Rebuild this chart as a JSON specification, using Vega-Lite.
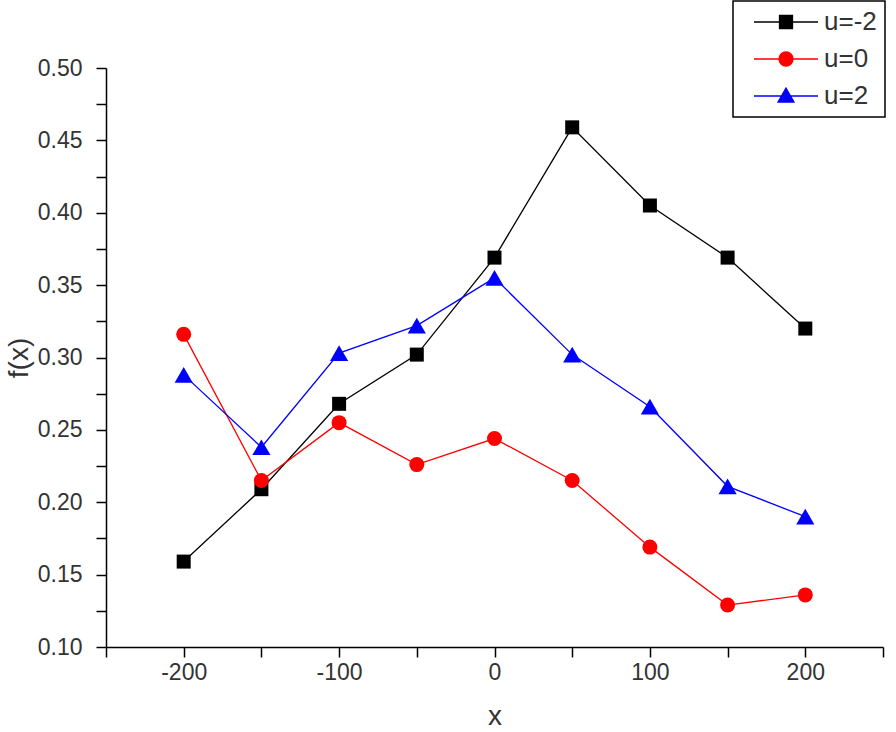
{
  "$schema": "https://vega.github.io/schema/vega-lite/v6.json",
  "autosize": "none",
  "width": 777,
  "height": 579,
  "padding": {"left": 106, "top": 68, "right": 13, "bottom": 85},
  "background": "white",
  "config": {
    "view": {"stroke": null},
    "font": "Liberation Sans",
    "axis": {"grid": false}
  },
  "data": {
    "values": [
      {"x": -200, "f": 0.159, "s": "u=-2"},
      {"x": -150, "f": 0.209, "s": "u=-2"},
      {"x": -100, "f": 0.268, "s": "u=-2"},
      {"x": -50, "f": 0.302, "s": "u=-2"},
      {"x": 0, "f": 0.369, "s": "u=-2"},
      {"x": 50, "f": 0.459, "s": "u=-2"},
      {"x": 100, "f": 0.405, "s": "u=-2"},
      {"x": 150, "f": 0.369, "s": "u=-2"},
      {"x": 200, "f": 0.320, "s": "u=-2"},
      {"x": -200, "f": 0.316, "s": "u=0"},
      {"x": -150, "f": 0.215, "s": "u=0"},
      {"x": -100, "f": 0.255, "s": "u=0"},
      {"x": -50, "f": 0.226, "s": "u=0"},
      {"x": 0, "f": 0.244, "s": "u=0"},
      {"x": 50, "f": 0.215, "s": "u=0"},
      {"x": 100, "f": 0.169, "s": "u=0"},
      {"x": 150, "f": 0.129, "s": "u=0"},
      {"x": 200, "f": 0.136, "s": "u=0"},
      {"x": -200, "f": 0.288, "s": "u=2"},
      {"x": -150, "f": 0.238, "s": "u=2"},
      {"x": -100, "f": 0.303, "s": "u=2"},
      {"x": -50, "f": 0.322, "s": "u=2"},
      {"x": 0, "f": 0.355, "s": "u=2"},
      {"x": 50, "f": 0.302, "s": "u=2"},
      {"x": 100, "f": 0.266, "s": "u=2"},
      {"x": 150, "f": 0.211, "s": "u=2"},
      {"x": 200, "f": 0.190, "s": "u=2"}
    ]
  },
  "encoding": {
    "x": {
      "field": "x", "type": "quantitative",
      "scale": {"domain": [-250, 250], "nice": false, "zero": false},
      "axis": {
        "title": "x", "titleFontSize": 28, "titleFontWeight": "normal", "titleColor": "#333", "titlePadding": 18,
        "values": [-250, -200, -150, -100, -50, 0, 50, 100, 150, 200, 250],
        "labelExpr": "datum.value % 100 === 0 && abs(datum.value) < 250 ? '' + datum.value : ''",
        "labelFontSize": 23, "labelColor": "#333", "labelPadding": 4,
        "domainColor": "black", "domainWidth": 1.5,
        "tickColor": "black", "tickWidth": 1.5, "tickSize": 10,
        "labelFlush": false, "labelOverlap": false,
        "encode": {"ticks": {"update": {"y2": {"signal": "datum.value % 100 === 0 ? 10 : 6"}}}}
      }
    },
    "y": {
      "field": "f", "type": "quantitative",
      "scale": {"domain": [0.1, 0.5], "nice": false, "zero": false},
      "axis": {
        "title": "f(x)", "titleFontSize": 28, "titleFontWeight": "normal", "titleColor": "#333", "titlePadding": 4,
        "values": [0.1, 0.125, 0.15, 0.175, 0.2, 0.225, 0.25, 0.275, 0.3, 0.325, 0.35, 0.375, 0.4, 0.425, 0.45, 0.475, 0.5],
        "labelExpr": "round(datum.value * 1000) % 50 === 0 ? format(datum.value, '.2f') : ''",
        "labelFontSize": 23, "labelColor": "#333", "labelPadding": 14,
        "domainColor": "black", "domainWidth": 1.5,
        "tickColor": "black", "tickWidth": 1.5, "tickSize": 10,
        "labelFlush": false, "labelOverlap": false,
        "encode": {"ticks": {"update": {"x2": {"signal": "round(datum.value * 1000) % 50 === 0 ? -10 : -6"}}}}
      }
    },
    "color": {
      "field": "s", "type": "nominal",
      "scale": {"domain": ["u=-2", "u=0", "u=2"], "range": ["black", "red", "blue"]},
      "legend": {
        "orient": "none", "legendX": 627, "legendY": -67,
        "title": null,
        "strokeColor": "black", "fillColor": "white",
        "padding": 8,
        "symbolSize": 400,
        "symbolOffset": 32,
        "labelFontSize": 26, "labelColor": "#333", "labelOffset": 25,
        "rowPadding": 11,
        "encode": {
          "legend": {"update": {"strokeWidth": {"value": 1.5}}},
          "symbols": {
            "update": {
              "shape": {"signal": "datum.value === 'u=-2' ? 'M-3.2,0H3.2M-0.65,-0.65H0.65V0.65H-0.65Z' : datum.value === 'u=0' ? 'M-3.2,0H-0.7A0.7,0.7 0 1,1 0.7,0A0.7,0.7 0 1,1 -0.7,0M0.7,0H3.2' : 'M-3.2,0H3.2M0,-0.8L0.8,0.6H-0.8Z'"},
              "fill": {"scale": "color", "field": "value"},
              "stroke": {"scale": "color", "field": "value"},
              "strokeWidth": {"value": 1.3},
              "opacity": {"value": 1}
            }
          }
        }
      }
    }
  },
  "layer": [
    {"mark": {"type": "line", "strokeWidth": 1.3}},
    {
      "transform": [{"filter": "datum.s === 'u=-2'"}],
      "mark": {"type": "point", "shape": "square", "filled": true, "opacity": 1, "size": 196}
    },
    {
      "transform": [{"filter": "datum.s === 'u=0'"}],
      "mark": {"type": "point", "shape": "circle", "filled": true, "opacity": 1, "size": 225}
    },
    {
      "transform": [{"filter": "datum.s === 'u=2'"}],
      "mark": {"type": "point", "shape": "triangle-up", "filled": true, "opacity": 1, "size": 330}
    }
  ]
}
